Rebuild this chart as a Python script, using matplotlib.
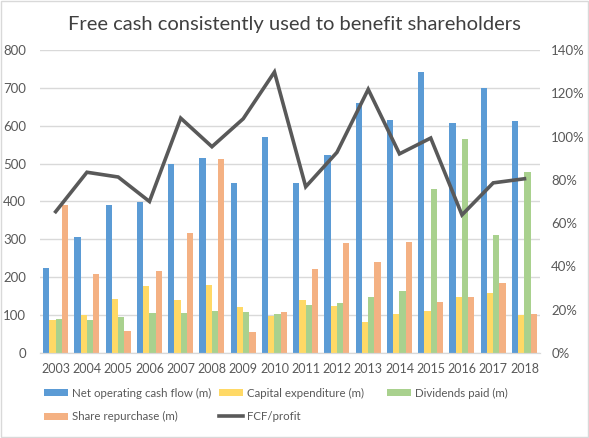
import matplotlib
matplotlib.use("Agg")
import matplotlib.pyplot as plt
import numpy as np
from matplotlib.patches import Rectangle
from matplotlib.ticker import FuncFormatter

years = ["2003", "2004", "2005", "2006", "2007", "2008", "2009", "2010",
         "2011", "2012", "2013", "2014", "2015", "2016", "2017", "2018"]
net_operating_cf = [224, 305, 390, 398, 500, 516, 448, 569, 450, 524, 659, 615, 743, 606, 699, 613]
capex = [87, 100, 142, 176, 139, 179, 121, 98, 141, 125, 81, 104, 110, 149, 159, 101]
dividends = [90, 87, 95, 105, 105, 110, 107, 102, 128, 132, 147, 165, 433, 566, 312, 479]
share_repurchase = [390, 208, 57, 216, 316, 511, 55, 107, 221, 290, 239, 294, 136, 149, 186, 104]
fcf_profit = [0.653, 0.835, 0.813, 0.700, 1.085, 0.953, 1.082, 1.298,
              0.768, 0.927, 1.218, 0.920, 0.993, 0.638, 0.786, 0.805]

plt.rcParams['font.family'] = ['Lato', 'DejaVu Sans']

fig = plt.figure(figsize=(5.89, 4.38), dpi=100)
fig.patches.append(Rectangle((0.002, 0.002), 0.996, 0.996, transform=fig.transFigure,
                             fill=False, edgecolor="#D9D9D9", linewidth=1))
ax = fig.add_axes([0.068, 0.194, 0.849, 0.692])
ax2 = ax.twinx()

x = np.arange(len(years))
w = 0.2
cols = ["#5B9BD5", "#FFD966", "#A9D18E", "#F4B183"]
series = [net_operating_cf, capex, dividends, share_repurchase]
labels = ["Net operating cash flow (m)", "Capital expenditure (m)",
          "Dividends paid (m)", "Share repurchase (m)"]
bars = []
for i, (s, c, l) in enumerate(zip(series, cols, labels)):
    b = ax.bar(x + (i - 1.5) * w, s, width=w, color=c, label=l, zorder=2)
    bars.append(b)

ln, = ax2.plot(x, fcf_profit, color="#595959", linewidth=2.6, label="FCF/profit",
               solid_joinstyle="miter", zorder=3)

ax.set_xlim(-0.5, len(years) - 0.5)
ax.set_ylim(0, 800)
ax.set_yticks(range(0, 801, 100))
ax2.set_ylim(0, 1.4)
ax2.set_yticks(np.arange(0, 1.41, 0.2))
ax2.yaxis.set_major_formatter(FuncFormatter(lambda v, p: f"{v*100:.0f}%"))
ax.set_xticks(x)
ax.set_xticklabels(years)

ax.grid(axis="y", color="#D9D9D9", linewidth=1, zorder=0)
ax.set_axisbelow(True)
for a in (ax, ax2):
    for s in ["top", "left", "right"]:
        a.spines[s].set_visible(False)
    a.spines["bottom"].set_color("#D9D9D9")
    a.tick_params(length=0, labelsize=9.5, colors="#595959")
ax.tick_params(axis="x", labelsize=9)
ax.tick_params(axis="y", pad=10)
ax2.tick_params(axis="y", pad=8)
ax.tick_params(axis="x", pad=7)

fig.text(0.5, 0.945, "Free cash consistently used to benefit shareholders",
         ha="center", va="center", fontsize=14.5, color="#404040")

legend_cols = [([bars[0], bars[3]], [labels[0], labels[3]], 44),
               ([bars[1], ln], [labels[1], "FCF/profit"], 219),
               ([bars[2]], [labels[2]], 387)]
for hs, ls, px in legend_cols:
    leg = fig.legend(hs, ls, loc="upper left", bbox_to_anchor=(px / 589, 0.115), ncol=1,
                     frameon=False, fontsize=8.3, labelcolor="#595959", handlelength=2.1,
                     handleheight=0.62, handletextpad=0.3, labelspacing=1.1,
                     borderaxespad=0, borderpad=0)

fig.savefig("out.png", dpi=100)
